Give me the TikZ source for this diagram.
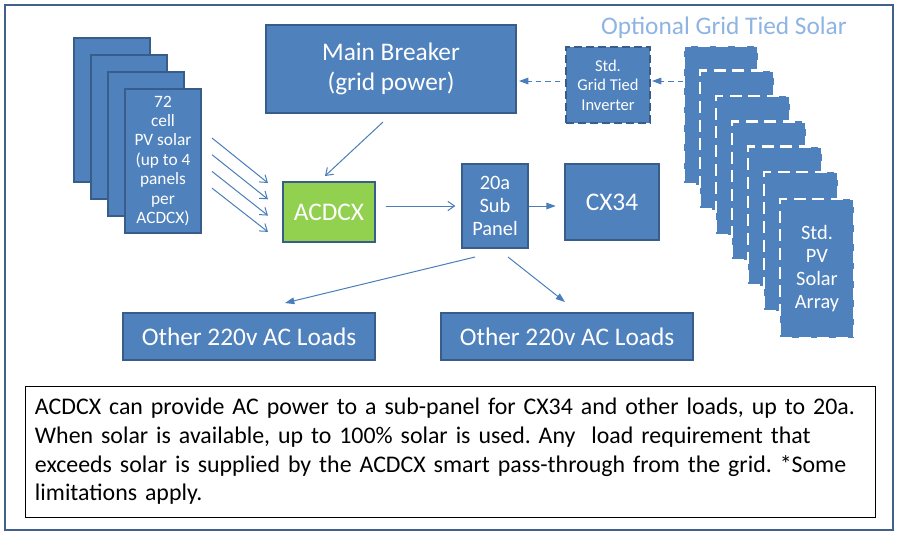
\documentclass[tikz,border=0pt]{standalone}
\usepackage{fontspec}
\setmainfont{Carlito}
\usetikzlibrary{arrows.meta}
\definecolor{boxblue}{HTML}{4F81BD}
\definecolor{boxedge}{HTML}{385D8A}
\definecolor{acgreen}{HTML}{92D050}
\definecolor{linkblue}{HTML}{4A7EBB}
\definecolor{titleblue}{HTML}{8EB4E3}
\definecolor{frameedge}{HTML}{41618A}
\frenchspacing

\begin{document}
\begin{tikzpicture}[x=0.75pt,y=0.75pt,yscale=-1,xscale=1,
  block/.style={draw=boxedge,fill=boxblue,line width=2pt,text=white,align=center,inner sep=0pt},
  big/.style={font=\fontsize{19}{22}\selectfont},
  mid/.style={font=\fontsize{15.3}{17.25}\selectfont},
  small/.style={font=\fontsize{13}{14.6}\selectfont},
  pvpanel/.style={block,minimum width=57pt,minimum height=108pt},
  gridpv/.style={block,draw=white,dash pattern=on 9pt off 5pt,minimum width=55.5pt,minimum height=104.25pt},
  link/.style={draw=linkblue,line width=0.75pt,-{Straight Barb[length=5pt,width=7pt]}},
  feed/.style={draw=linkblue,line width=0.75pt,-{Triangle[length=7pt,width=5pt]}},
  optfeed/.style={feed,dash pattern=on 4pt off 3pt}
]
\fill[white] (0,0) rectangle (901,537);
\useasboundingbox (0,0) rectangle (901,537);
%Outer frame
\draw[frameedge,line width=1.5pt] (5,5) rectangle (893,530);

% Text Node
\node[text=titleblue,big] (title) at (724,28) {Optional Grid Tied Solar};

%PV panels (stack)
\foreach \i in {0,...,2}
  \node[pvpanel] (pv\i) at ({112+17*\i},{110+17*\i}) {};
\node[pvpanel,small] (pv3) at (163,161) {72\\cell\\PV solar\\(up to 4\\panels\\per\\ACDCX)};

% Blocks
\node[block,big,minimum width=187.5pt,minimum height=66pt] (breaker) at (391,69) {Main Breaker\\(grid power)};
\node[block,big,fill=acgreen,minimum width=69pt,minimum height=45pt] (acdcx) at (329,212) {ACDCX};
\node[block,mid,minimum width=49.5pt,minimum height=63pt] (sub) at (495,206) {20a\\Sub\\Panel};
\node[block,big,minimum width=70.5pt,minimum height=57pt] (cx34) at (612,202) {CX34};
\node[block,big,minimum width=189pt,minimum height=35.25pt] (loadA) at (249,336.5) {Other 220v AC Loads};
\node[block,big,minimum width=189pt,minimum height=35.25pt] (loadB) at (567,336.5) {Other 220v AC Loads};
\node[block,font=\fontsize{12.4}{14.6}\selectfont,dash pattern=on 6pt off 3pt,minimum width=63pt,minimum height=57pt] (inv) at (608,85) {Std.\\Grid Tied\\Inverter};

%Grid tied PV array (stack)
\foreach \i in {0,...,5}
  \node[gridpv] (gpv\i) at ({721+16*\i},{115+25.3*\i}) {};
\node[gridpv,mid] (gpv6) at (817,268.5) {Std.\\PV\\Solar\\Array};

%Straight Lines
\foreach \i in {0,...,3}{
  \coordinate (pvout\i) at (212,{138+16.7*\i});
  \coordinate (acin\i) at (268,{183+16.3*\i});
  \draw[link] (pvout\i) -- (acin\i);
}
\coordinate (brkout) at (383,122);
\coordinate (acintop) at (325,176);
\draw[link] (brkout) -- (acintop);
\draw[link,shorten <=7pt,shorten >=4pt] (acdcx.east |- sub.west) -- (sub.west);
\draw[feed,shorten >=6pt] (sub.east) -- (cx34.west |- sub.east);
\coordinate (subleft) at (475,257);
\coordinate (subright) at (508,257);
\coordinate (loadAin) at (285,303);
\coordinate (loadBin) at (565,302);
\draw[feed] (subleft) -- (loadAin);
\draw[feed] (subright) -- (loadBin);
\coordinate (gridout) at (683,81);
\coordinate (invin) at (652,81);
\coordinate (invout) at (560,81);
\coordinate (brkin) at (519,81);
\draw[optfeed] (gridout) -- (invin);
\draw[optfeed] (invout) -- (brkin);

% Text Node
\node[draw=black,line width=0.75pt,align=left,text width=622.5pt,inner xsep=7.5pt,minimum height=98.25pt,font=\fontsize{17.9}{21.5}\selectfont] (note) at (450,451.5)
  {ACDCX can provide AC power to a sub-panel for CX34 and other loads, up to 20a.\\
   When solar is available, up to 100\% solar is used. Any\ \ load requirement that\\
   exceeds solar is supplied by the ACDCX smart pass-through from the grid. *Some\\
   limitations apply.};
\end{tikzpicture}
\end{document}
